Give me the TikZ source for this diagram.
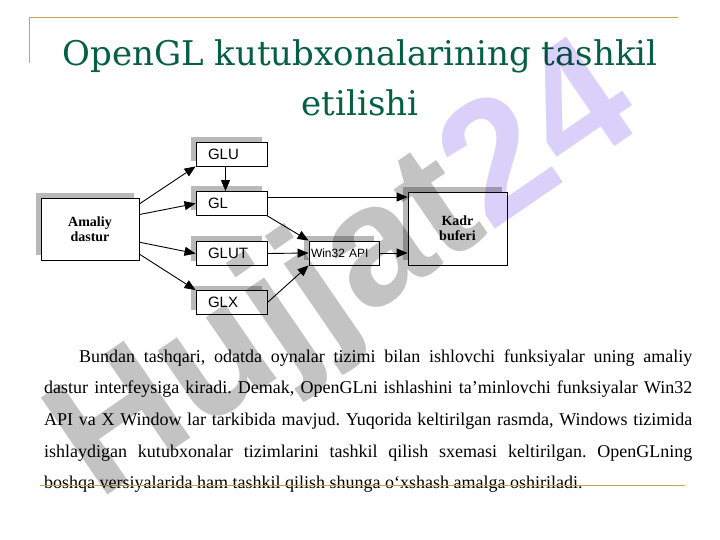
\documentclass[tikz,border=0pt]{standalone}
\usepackage{fontspec}
\setmainfont{Liberation Serif}
\newfontfamily\sansf{Liberation Sans}
\newfontfamily\titlef{DejaVu Serif}
\newfontfamily\wmf{Liberation Sans}
\usetikzlibrary{arrows.meta,calc,shadows}
\definecolor{gold}{RGB}{196,164,78}
\definecolor{titlegreen}{RGB}{4,96,64}
\definecolor{wmgray}{RGB}{195,195,195}
\definecolor{wmlav}{RGB}{218,208,250}
\definecolor{shadowgray}{RGB}{185,185,185}
\tikzset{
  box/.style={draw=black, line width=0.9bp, fill=white, rectangle, inner ysep=0bp,
    general shadow={shadow xshift=-5bp, shadow yshift=5bp, fill=shadowgray, draw=none}},
  libbox/.style={box, minimum height=24bp, text width=47bp, inner xsep=12bp, align=left,
    font=\sansf\fontsize{15bp}{17bp}\selectfont},
  bigbox/.style={box, align=center, font=\bfseries\fontsize{14bp}{15bp}\selectfont, inner xsep=0bp},
  conn/.style={line width=0.9bp, -{Triangle[length=11bp,width=9bp]}},
  goldline/.style={draw=gold, line width=1.8bp},
  titletext/.style={anchor=base, font=\titlef\fontsize{34bp}{50bp}\selectfont, text=titlegreen, inner sep=0}
}
\begin{document}
\frenchspacing
\begin{tikzpicture}[x=1bp,y=-1bp]
\useasboundingbox (0,0) rectangle (720,540);
% frame lines
\coordinate (tl) at (29.5,17.5);
\coordinate (tr) at (678,17.5);
\coordinate (tlb) at (29.5,63);
\draw[goldline] (tlb) -- (tl) -- (tr);
% title
\node[titletext] (title1) at (360,66) {OpenGL kutubxonalarining tashkil};
\node[titletext] (title2) at (360,116) {etilishi};
% diagram
\node[libbox, minimum width=71bp] (glu) at (231.5,154) {GLU};
\node[libbox, minimum width=71bp] (gl) at (231.5,203.5) {GL};
\node[libbox, minimum width=71bp] (glut) at (231.5,253.5) {GLUT};
\node[libbox, minimum width=71bp] (glx) at (231.5,302.5) {GLX};
\node[bigbox, minimum width=98bp, minimum height=62bp] (amaliy) at (90,229) {Amaliy\\dastur};
\node[bigbox, minimum width=99bp, minimum height=73bp] (kadr) at (457.5,228.5) {Kadr\\buferi};
\node[box, minimum width=70bp, minimum height=24bp, text width=66bp, inner xsep=2bp, align=left,
  font=\sansf\fontsize{12bp}{14bp}\selectfont] (win) at (344,253) {Win32 API};
\draw[conn] ($(amaliy.north east)!0.10!(amaliy.south east)$) -- (glu.south west);
\draw[conn] ($(amaliy.north east)!0.27!(amaliy.south east)$) -- (gl.west);
\draw[conn] ($(amaliy.north east)!0.71!(amaliy.south east)$) -- (glut.west);
\draw[conn] ($(amaliy.north east)!0.90!(amaliy.south east)$) -- (glx.north west);
\draw[conn] ([xshift=-6bp]glu.south) -- ([xshift=-6bp]gl.north);
\coordinate (glr) at ($(gl.north east)+(0,6)$);
\draw[conn] (glr) -- (kadr.west |- glr);
\draw[conn] (gl.south east) -- (win.north west);
\draw[conn] (glut.east) -- (win.west);
\draw[conn] (glx.east) -- (win.south west);
\draw[conn] (win.east) -- (kadr.west |- win.east);
% body text
\node[anchor=base west, inner sep=0, font=\fontsize{18bp}{31.7bp}\selectfont] (body) at (44,362)
  {\parbox[t]{648bp}{\noindent\hspace*{35bp}Bundan tashqari, odatda oynalar tizimi bilan ishlovchi funksiyalar uning amaliy\linebreak
  dastur interfeysiga kiradi. Demak, OpenGLni ishlashini ta’minlovchi funksiyalar Win32\linebreak
  API va X Window lar tarkibida mavjud. Yuqorida keltirilgan rasmda, Windows tizimida\linebreak
  ishlaydigan kutubxonalar tizimlarini tashkil qilish sxemasi keltirilgan. OpenGLning\linebreak
  boshqa versiyalarida ham tashkil qilish shunga o‘xshash amalga oshiriladi.}};
\coordinate (bl) at (40,485.5);
\coordinate (br) at (685,485.5);
\draw[goldline] (bl) -- (br);
% watermark, multiplied over everything
\begin{scope}[blend mode=multiply]
\node[rotate=34.5, font=\wmf\bfseries\fontsize{171bp}{172bp}\selectfont, inner sep=0] (wm) at (348,277)
  {\textcolor{wmgray}{Hujjat}\textcolor{wmlav}{24}};
\end{scope}
\end{tikzpicture}
\end{document}
